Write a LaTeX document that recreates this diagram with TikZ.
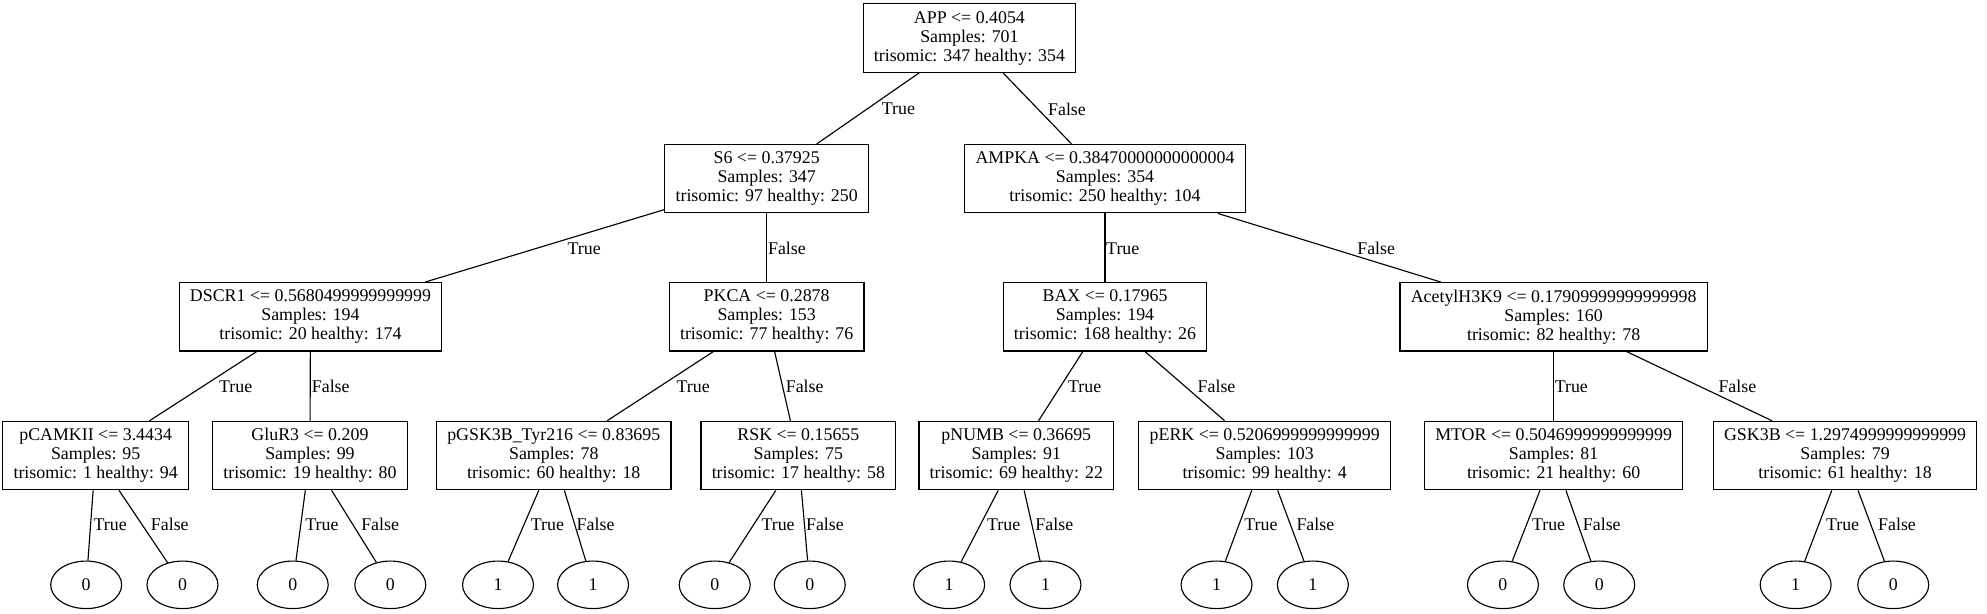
\documentclass[tikz,border=0pt]{standalone}
\usepackage{fontspec}
\setmainfont{Liberation Serif}
\usetikzlibrary{shapes.geometric}
\begin{document}
\begin{tikzpicture}[x=1pt,y=-1pt,
  every node/.style={font=\fontsize{14.1}{15}\selectfont},
  split/.style={draw, line width=0.9pt, rectangle, align=center, inner xsep=8.5pt, inner ysep=0pt, minimum height=54pt},
  leaf/.style={draw, line width=0.9pt, ellipse, minimum width=56pt, minimum height=37.5pt, inner sep=0pt},
  lbl/.style={inner sep=0pt},
  conn/.style={line width=0.9pt}]
\useasboundingbox (0,0) rectangle (1568,484);
% level 1
\node[split] (n0) at (765,30) {APP <= 0.4054\\Samples: 701\\trisomic: 347 healthy: 354};
% level 2
\node[split] (s6) at (605,141) {S6 <= 0.37925\\Samples: 347\\trisomic: 97 healthy: 250};
\node[split] (ampka) at (872,141) {AMPKA <= 0.38470000000000004\\Samples: 354\\trisomic: 250 healthy: 104};
% level 3
\node[split] (dscr1) at (245,250) {DSCR1 <= 0.5680499999999999\\Samples: 194\\trisomic: 20 healthy: 174};
\node[split] (pkca) at (605,250) {PKCA <= 0.2878\\Samples: 153\\trisomic: 77 healthy: 76};
\node[split] (bax) at (872,250) {BAX <= 0.17965\\Samples: 194\\trisomic: 168 healthy: 26};
\node[split] (acetyl) at (1226,250) {AcetylH3K9 <= 0.17909999999999998\\Samples: 160\\trisomic: 82 healthy: 78};
% level 4
\node[split] (pcamkii) at (75.5,359.5) {pCAMKII <= 3.4434\\Samples: 95\\trisomic: 1 healthy: 94};
\node[split] (glur3) at (244.6,359.5) {GluR3 <= 0.209\\Samples: 99\\trisomic: 19 healthy: 80};
\node[split] (pgsk) at (437,359.5) {pGSK3B\_Tyr216 <= 0.83695\\Samples: 78\\trisomic: 60 healthy: 18};
\node[split] (rsk) at (630,359.5) {RSK <= 0.15655\\Samples: 75\\trisomic: 17 healthy: 58};
\node[split] (pnumb) at (802,359.5) {pNUMB <= 0.36695\\Samples: 91\\trisomic: 69 healthy: 22};
\node[split] (perk) at (998,359.5) {pERK <= 0.5206999999999999\\Samples: 103\\trisomic: 99 healthy: 4};
\node[split] (mtor) at (1226,359.5) {MTOR <= 0.5046999999999999\\Samples: 81\\trisomic: 21 healthy: 60};
\node[split] (gsk3b) at (1456,359.5) {GSK3B <= 1.2974999999999999\\Samples: 79\\trisomic: 61 healthy: 18};
% leaves
\node[leaf] (e1) at (68,461.5) {0};
\node[leaf] (e2) at (144,461.5) {0};
\node[leaf] (e3) at (231,461.5) {0};
\node[leaf] (e4) at (308,461.5) {0};
\node[leaf] (e5) at (393,461.5) {1};
\node[leaf] (e6) at (468,461.5) {1};
\node[leaf] (e7) at (564,461.5) {0};
\node[leaf] (e8) at (639,461.5) {0};
\node[leaf] (e9) at (749,461.5) {1};
\node[leaf] (e10) at (825,461.5) {1};
\node[leaf] (e11) at (960,461.5) {1};
\node[leaf] (e12) at (1036,461.5) {1};
\node[leaf] (e13) at (1186,461.5) {0};
\node[leaf] (e14) at (1262,461.5) {0};
\node[leaf] (e15) at (1417,461.5) {1};
\node[leaf] (e16) at (1494,461.5) {0};
% connectors
\draw[conn] (n0) -- (s6);
\draw[conn] (n0) -- (ampka);
\draw[conn] (s6) -- (dscr1);
\draw[conn] (s6) -- (pkca);
\draw[conn] (ampka) -- (bax);
\draw[conn] (ampka) -- (acetyl);
\draw[conn] (dscr1) -- (pcamkii);
\draw[conn] (dscr1) -- (glur3);
\draw[conn] (pkca) -- (pgsk);
\draw[conn] (pkca) -- (rsk);
\draw[conn] (bax) -- (pnumb);
\draw[conn] (bax) -- (perk);
\draw[conn] (acetyl) -- (mtor);
\draw[conn] (acetyl) -- (gsk3b);
\draw[conn] (pcamkii) -- (e1);
\draw[conn] (pcamkii) -- (e2);
\draw[conn] (glur3) -- (e3);
\draw[conn] (glur3) -- (e4);
\draw[conn] (pgsk) -- (e5);
\draw[conn] (pgsk) -- (e6);
\draw[conn] (rsk) -- (e7);
\draw[conn] (rsk) -- (e8);
\draw[conn] (pnumb) -- (e9);
\draw[conn] (pnumb) -- (e10);
\draw[conn] (perk) -- (e11);
\draw[conn] (perk) -- (e12);
\draw[conn] (mtor) -- (e13);
\draw[conn] (mtor) -- (e14);
\draw[conn] (gsk3b) -- (e15);
\draw[conn] (gsk3b) -- (e16);
% labels
\node[lbl] (t1) at (709,86) {True};
\node[lbl] (f1) at (842,86) {False};
\node[lbl] (t2) at (461,196) {True};
\node[lbl] (f2) at (621,196) {False};
\node[lbl] (t3) at (886,196) {True};
\node[lbl] (f3) at (1086,196) {False};
\node[lbl] (t4) at (186,305) {True};
\node[lbl] (f4) at (261,305) {False};
\node[lbl] (t5) at (547,305) {True};
\node[lbl] (f5) at (635,305) {False};
\node[lbl] (t6) at (856,305) {True};
\node[lbl] (f6) at (960,305) {False};
\node[lbl] (t7) at (1240,305) {True};
\node[lbl] (f7) at (1371,305) {False};
\node[lbl] (t8) at (87,414) {True};
\node[lbl] (f8) at (134,414) {False};
\node[lbl] (t9) at (254,414) {True};
\node[lbl] (f9) at (300,414) {False};
\node[lbl] (t10) at (432,414) {True};
\node[lbl] (f10) at (470,414) {False};
\node[lbl] (t11) at (614,414) {True};
\node[lbl] (f11) at (651,414) {False};
\node[lbl] (t12) at (792,414) {True};
\node[lbl] (f12) at (832,414) {False};
\node[lbl] (t13) at (995,414) {True};
\node[lbl] (f13) at (1038,414) {False};
\node[lbl] (t14) at (1222,414) {True};
\node[lbl] (f14) at (1264,414) {False};
\node[lbl] (t15) at (1454,414) {True};
\node[lbl] (f15) at (1497,414) {False};
\end{tikzpicture}
\end{document}
